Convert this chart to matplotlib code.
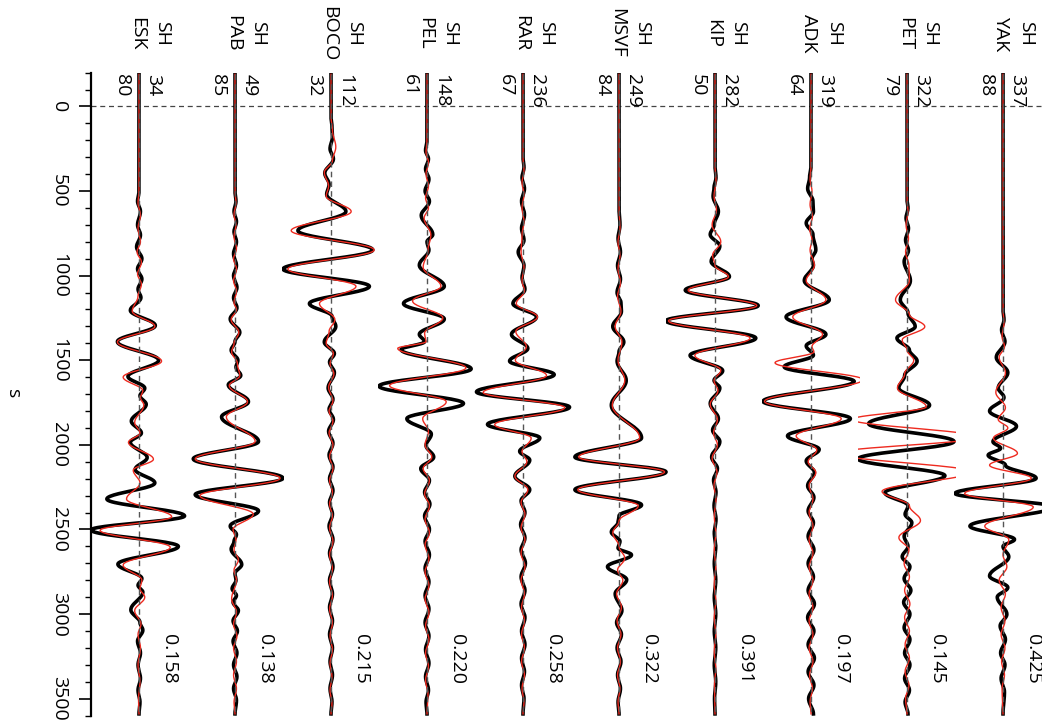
import numpy as np
import matplotlib
matplotlib.use("Agg")
import matplotlib.pyplot as plt
from matplotlib.patches import Rectangle
from matplotlib.ticker import MultipleLocator

plt.rcParams["font.family"] = ["Open Sans", "DejaVu Sans"]

# Stations, left to right
stations = ["ESK", "PAB", "BOCO", "PEL", "RAR", "MSVF", "KIP", "ADK", "PET", "YAK"]
component = "SH"
azimuth = [34, 49, 112, 148, 236, 249, 282, 319, 322, 337]
distance = [80, 85, 32, 61, 67, 84, 50, 64, 79, 88]
correlation = ["0.158", "0.138", "0.215", "0.220", "0.258", "0.322", "0.391", "0.197", "0.145", "0.425"]

# Waveform turning points (time in s, normalised amplitude); obs = black, syn = red
esk_obs = [(-190, 0), (500, 0), (560, -0.03), (620, 0.03), (700, -0.03), (760, 0.03), (830, -0.05),
           (900, 0.06), (960, -0.03), (1020, 0.06), (1080, -0.02), (1130, 0.04), (1205, -0.18),
           (1295, 0.34), (1390, -0.45), (1500, 0.41), (1596, -0.23), (1665, 0.12), (1710, 0.02),
           (1760, 0.15), (1860, -0.16), (1930, 0.05), (1985, -0.18), (2075, 0.17), (2145, -0.08),
           (2225, 0.33), (2320, -0.67), (2420, 0.95), (2503, -1.0), (2600, 0.82), (2705, -0.44),
           (2790, 0.06), (2830, -0.02), (2870, 0.08), (2975, -0.17), (3050, 0.02), (3095, 0.08),
           (3160, -0.03), (3230, 0.03), (3300, -0.02), (3380, 0.03), (3450, -0.02), (3520, 0.02), (3590, 0)]
esk_syn = [(-190, 0), (500, 0), (570, -0.02), (640, 0.03), (720, -0.02), (800, 0.03), (860, -0.04),
           (920, 0.05), (990, -0.03), (1050, 0.05), (1120, -0.02), (1210, -0.14), (1300, 0.33),
           (1392, -0.45), (1505, 0.47), (1600, -0.33), (1680, 0.08), (1720, 0.03), (1765, 0.10),
           (1868, -0.09), (1930, 0.02), (1985, -0.22), (2085, 0.30), (2150, -0.12), (2225, 0.02),
           (2320, -0.26), (2425, 0.68), (2505, -0.81), (2605, 0.65), (2710, -0.33), (2800, 0.06),
           (2850, 0.02), (2900, 0.12), (2980, -0.09), (3060, 0.04), (3120, -0.02), (3200, 0.03),
           (3300, -0.02), (3400, 0.02), (3500, -0.01), (3590, 0)]

pab_obs = [(-190, 0), (500, 0), (560, 0.02), (620, -0.02), (680, 0.03), (740, -0.02), (800, 0.03),
           (870, -0.03), (940, 0.03), (1000, -0.03), (1070, 0.04), (1130, -0.03), (1190, 0.04),
           (1256, -0.10), (1335, 0.10), (1390, 0.0), (1440, -0.08), (1500, 0.06), (1540, 0.02),
           (1590, 0.12), (1645, -0.14), (1745, 0.28), (1835, -0.28), (1980, 0.49), (2083, -0.87),
           (2197, 1.0), (2294, -0.83), (2390, 0.49), (2480, -0.10), (2530, 0.03), (2570, -0.02),
           (2616, -0.08), (2707, 0.14), (2760, 0.0), (2800, 0.02), (2850, -0.06), (2890, 0.03),
           (2930, -0.04), (2979, 0.07), (3040, -0.04), (3100, 0.05), (3160, -0.04), (3230, 0.04),
           (3300, -0.03), (3370, 0.04), (3440, -0.03), (3510, 0.03), (3590, 0)]
pab_syn = [(-190, 0), (500, 0), (570, 0.02), (640, -0.02), (700, 0.02), (770, -0.02), (840, 0.03),
           (900, -0.03), (960, 0.03), (1030, -0.03), (1090, 0.03), (1160, -0.02), (1200, 0.03),
           (1260, -0.08), (1335, 0.08), (1400, -0.02), (1450, -0.07), (1520, 0.05), (1590, 0.10),
           (1650, -0.12), (1745, 0.26), (1835, -0.18), (1980, 0.42), (2083, -0.83), (2197, 0.94),
           (2300, -0.73), (2410, 0.38), (2500, -0.04), (2560, 0.02), (2620, -0.02), (2680, 0.07),
           (2740, -0.02), (2800, 0.03), (2910, -0.07), (2990, 0.03), (3060, -0.03), (3130, 0.04),
           (3200, -0.03), (3280, 0.03), (3360, -0.03), (3440, 0.03), (3520, -0.02), (3590, 0)]

boco_obs = [(-190, 0), (60, 0), (120, 0.02), (180, 0.03), (250, -0.02), (310, 0.05), (394, -0.13),
            (460, -0.04), (520, -0.09), (621, 0.31), (734, -0.69), (848, 0.87), (961, -1.0),
            (1063, 0.80), (1165, -0.45), (1240, 0.02), (1300, 0.10), (1392, -0.14), (1460, 0.07),
            (1510, -0.03), (1573, 0.07), (1664, -0.06), (1730, 0.04), (1790, -0.04), (1850, 0.05),
            (1920, -0.05), (1990, 0.04), (2060, -0.04), (2130, 0.04), (2200, -0.03), (2270, 0.04),
            (2340, -0.03), (2410, 0.03), (2480, -0.04), (2560, 0.04), (2640, -0.03), (2720, 0.04),
            (2800, -0.03), (2880, 0.03), (2960, -0.03), (3040, 0.03), (3120, -0.03), (3200, 0.03),
            (3280, -0.02), (3360, 0.03), (3440, -0.02), (3520, 0.02), (3590, 0)]
boco_syn = [(-190, 0), (60, 0), (140, 0.03), (240, 0.10), (320, 0.03), (390, -0.14), (470, -0.05),
            (530, -0.10), (621, 0.42), (734, -0.83), (848, 0.90), (961, -0.90), (1063, 0.52),
            (1165, -0.24), (1260, 0.08), (1330, -0.04), (1400, -0.10), (1460, 0.05), (1520, -0.02),
            (1580, 0.06), (1660, -0.05), (1740, 0.04), (1800, -0.04), (1860, 0.04), (1930, -0.04),
            (2000, 0.04), (2070, -0.03), (2140, 0.04), (2210, -0.03), (2280, 0.03), (2350, -0.03),
            (2420, 0.03), (2490, -0.03), (2570, 0.04), (2650, -0.03), (2730, 0.03), (2810, -0.03),
            (2890, 0.03), (2970, -0.03), (3050, 0.03), (3130, -0.02), (3210, 0.03), (3290, -0.02),
            (3370, 0.02), (3450, -0.02), (3530, 0.02), (3590, 0)]

pel_obs = [(-190, 0), (200, 0), (260, -0.03), (310, 0.03), (370, -0.03), (430, 0.04), (500, -0.04),
           (560, 0.05), (644, -0.12), (757, 0.12), (800, 0.0), (848, 0.04), (938, -0.16),
           (1063, 0.36), (1165, -0.49), (1256, 0.36), (1347, -0.16), (1390, -0.05), (1437, -0.54),
           (1551, 0.92), (1653, -1.0), (1755, 0.76), (1845, -0.42), (1936, 0.09), (2004, -0.02),
           (2072, 0.14), (2140, -0.13), (2210, 0.05), (2280, -0.05), (2350, 0.06), (2420, -0.05),
           (2500, 0.05), (2570, -0.04), (2650, 0.05), (2730, -0.04), (2810, 0.04), (2890, -0.04),
           (2970, 0.04), (3050, -0.04), (3130, 0.04), (3210, -0.03), (3290, 0.04), (3370, -0.03),
           (3450, 0.03), (3520, -0.02), (3590, 0)]
pel_syn = [(-190, 0), (200, 0), (270, -0.02), (330, 0.03), (400, -0.02), (470, 0.03), (540, -0.03),
           (600, 0.03), (660, -0.06), (760, 0.08), (850, 0.02), (950, -0.08), (1063, 0.29),
           (1150, -0.30), (1250, 0.33), (1340, -0.05), (1390, -0.02), (1430, -0.61), (1545, 0.81),
           (1650, -0.78), (1745, 0.40), (1845, -0.09), (1920, 0.03), (2000, -0.04), (2072, 0.10),
           (2140, -0.08), (2210, 0.05), (2290, -0.05), (2360, 0.05), (2440, -0.04), (2520, 0.05),
           (2590, -0.04), (2670, 0.04), (2750, -0.04), (2830, 0.04), (2910, -0.04), (2990, 0.04),
           (3070, -0.03), (3150, 0.04), (3230, -0.03), (3310, 0.03), (3390, -0.03), (3470, 0.02),
           (3590, 0)]

rar_obs = [(-190, 0), (300, 0), (360, 0.02), (420, -0.02), (485, 0.03), (560, -0.03), (640, 0.03),
           (720, -0.03), (790, 0.02), (860, -0.10), (940, 0.02), (1010, -0.02), (1080, 0.04),
           (1165, -0.21), (1244, 0.28), (1347, -0.24), (1430, 0.10), (1505, -0.28), (1585, 0.65),
           (1687, -0.97), (1777, 0.97), (1879, -0.74), (1959, 0.35), (2038, -0.07), (2090, 0.14),
           (2185, -0.17), (2265, 0.14), (2330, -0.04), (2400, 0.04), (2470, -0.05), (2550, 0.04),
           (2620, -0.04), (2700, 0.05), (2780, -0.04), (2860, 0.04), (2940, -0.04), (3020, 0.04),
           (3100, -0.03), (3180, 0.04), (3260, -0.03), (3340, 0.03), (3420, -0.03), (3500, 0.02),
           (3590, 0)]
rar_syn = [(-190, 0), (300, 0), (380, 0.02), (450, -0.02), (520, 0.02), (600, -0.02), (680, 0.02),
           (760, -0.02), (860, -0.04), (950, 0.02), (1030, -0.02), (1090, 0.03), (1165, -0.14),
           (1244, 0.30), (1330, -0.15), (1420, 0.07), (1500, -0.16), (1590, 0.49), (1690, -0.83),
           (1780, 0.87), (1880, -0.59), (1960, 0.17), (2040, -0.02), (2100, 0.08), (2185, -0.17),
           (2265, 0.10), (2340, -0.04), (2410, 0.04), (2490, -0.04), (2560, 0.04), (2640, -0.04),
           (2720, 0.04), (2800, -0.04), (2880, 0.03), (2960, -0.03), (3040, 0.03), (3120, -0.03),
           (3200, 0.03), (3280, -0.03), (3360, 0.03), (3440, -0.02), (3520, 0.02), (3590, 0)]

msvf_obs = [(-190, 0), (600, 0), (700, 0.02), (780, -0.02), (860, 0.03), (940, -0.03), (1020, 0.03),
            (1100, -0.04), (1160, 0.04), (1211, 0.05), (1300, -0.13), (1392, 0.10), (1450, 0.0),
            (1505, -0.04), (1619, 0.15), (1766, -0.16), (1959, 0.47), (2072, -0.92), (2160, 0.98),
            (2265, -0.92), (2355, 0.47), (2420, 0.0), (2457, -0.02), (2515, -0.16), (2570, 0.02),
            (2610, -0.02), (2650, 0.26), (2720, -0.24), (2797, 0.16), (2880, -0.08), (2979, 0.06),
            (3050, -0.05), (3120, 0.05), (3200, -0.04), (3280, 0.04), (3360, -0.03), (3440, 0.03),
            (3520, -0.02), (3590, 0)]
msvf_syn = [(-190, 0), (600, 0), (720, 0.02), (800, -0.02), (880, 0.02), (960, -0.02), (1040, 0.03),
            (1120, -0.03), (1211, 0.04), (1300, -0.08), (1392, 0.06), (1500, -0.02), (1619, 0.12),
            (1766, -0.14), (1959, 0.43), (2072, -0.84), (2160, 0.95), (2265, -0.86), (2360, 0.40),
            (2450, 0.0), (2520, -0.13), (2600, 0.0), (2670, 0.12), (2740, -0.03), (2800, 0.08),
            (2880, -0.05), (2960, 0.05), (3040, -0.04), (3120, 0.04), (3200, -0.03), (3280, 0.03),
            (3360, -0.03), (3440, 0.02), (3520, -0.02), (3590, 0)]

kip_obs = [(-190, 0), (350, 0), (420, 0.02), (480, -0.02), (530, -0.04), (621, 0.07), (700, -0.02),
           (757, -0.10), (825, 0.10), (916, -0.08), (1006, 0.30), (1086, -0.62), (1177, 0.90),
           (1267, -1.02), (1369, 0.85), (1471, -0.52), (1562, 0.16), (1619, -0.02), (1664, 0.10),
           (1755, -0.10), (1845, 0.07), (1913, -0.05), (1981, 0.10), (2072, -0.07), (2140, 0.05),
           (2208, -0.03), (2280, 0.02), (2360, -0.02), (2440, 0.02), (2520, -0.015), (2600, 0.015),
           (2700, -0.015), (2800, 0.015), (2900, -0.015), (3000, 0.015), (3100, -0.015),
           (3200, 0.015), (3300, -0.015), (3400, 0.015), (3500, -0.01), (3590, 0)]
kip_syn = [(-190, 0), (350, 0), (440, 0.02), (530, -0.02), (610, 0.03), (700, -0.06), (800, 0.12),
           (880, -0.05), (940, 0.0), (1006, 0.28), (1086, -0.56), (1177, 0.87), (1267, -0.97),
           (1369, 0.73), (1471, -0.42), (1560, 0.12), (1620, -0.02), (1680, 0.06), (1760, -0.10),
           (1850, 0.05), (1930, -0.03), (2000, 0.05), (2080, -0.06), (2160, 0.04), (2240, -0.02),
           (2320, 0.02), (2420, -0.015), (2520, 0.015), (2620, -0.015), (2720, 0.015),
           (2820, -0.015), (2920, 0.015), (3020, -0.015), (3120, 0.015), (3220, -0.015),
           (3320, 0.015), (3420, -0.01), (3590, 0)]

adk_obs = [(-190, 0), (350, 0), (420, -0.03), (485, -0.07), (560, 0.04), (621, 0.05), (689, -0.10),
           (757, 0.04), (848, 0.10), (900, 0.02), (938, 0.05), (1029, -0.14), (1143, 0.38),
           (1244, -0.52), (1347, 0.31), (1415, -0.10), (1470, 0.05), (1539, -0.56), (1625, 0.90),
           (1743, -1.0), (1845, 0.82), (1947, -0.49), (2027, 0.17), (2095, -0.10), (2163, 0.07),
           (2242, -0.07), (2310, 0.06), (2390, -0.06), (2460, 0.05), (2540, -0.06), (2620, 0.06),
           (2700, -0.06), (2780, 0.05), (2860, -0.06), (2940, 0.07), (3020, -0.07), (3100, 0.06),
           (3180, -0.06), (3260, 0.07), (3340, -0.06), (3420, 0.06), (3500, -0.05), (3590, 0.05)]
adk_syn = [(-190, 0), (350, 0), (430, -0.02), (500, 0.02), (580, -0.02), (650, 0.03), (720, -0.03),
           (790, 0.02), (848, -0.02), (938, 0.07), (1029, -0.10), (1143, 0.31), (1244, -0.38),
           (1347, 0.24), (1420, 0.02), (1450, 0.06), (1515, -0.75), (1615, 1.08), (1743, -0.97),
           (1845, 0.63), (1947, -0.31), (2030, 0.12), (2100, -0.06), (2163, 0.10), (2240, -0.04),
           (2320, 0.04), (2400, -0.04), (2480, 0.04), (2560, -0.04), (2640, 0.04), (2720, -0.04),
           (2800, 0.04), (2880, -0.04), (2960, 0.04), (3040, -0.04), (3120, 0.04), (3200, -0.04),
           (3280, 0.04), (3360, -0.03), (3440, 0.03), (3520, -0.02), (3590, 0)]

pet_obs = [(-190, 0), (550, 0), (600, 0.02), (660, -0.02), (720, 0.03), (790, -0.03), (850, 0.03),
           (916, -0.06), (1029, 0.07), (1143, -0.14), (1220, 0.02), (1301, 0.17), (1369, -0.21),
           (1440, 0.05), (1505, 0.21), (1590, -0.05), (1664, -0.17), (1766, 0.47), (1875, -0.80),
           (1980, 0.98), (2083, -1.02), (2182, 0.79), (2283, -0.46), (2360, 0.02), (2410, -0.04),
           (2460, 0.10), (2540, -0.06), (2600, 0.02), (2661, -0.10), (2720, 0.06), (2790, -0.06),
           (2860, 0.08), (2930, -0.07), (3000, 0.06), (3080, -0.06), (3150, 0.06), (3230, -0.05),
           (3300, 0.06), (3380, -0.05), (3450, 0.05), (3520, -0.04), (3590, 0.02)]
pet_syn = [(-190, 0), (550, 0), (620, 0.02), (700, -0.02), (780, 0.03), (860, -0.03), (940, 0.04),
           (1029, 0.05), (1143, -0.24), (1230, 0.05), (1301, 0.37), (1380, -0.10), (1440, 0.0),
           (1500, 0.14), (1580, -0.05), (1664, -0.20), (1775, 0.40), (1850, -1.15), (1955, 1.5),
           (2050, -1.5), (2160, 1.35), (2275, -0.52), (2360, 0.05), (2447, 0.28), (2548, -0.17),
           (2620, 0.04), (2700, -0.06), (2780, 0.05), (2860, -0.05), (2940, 0.06), (3020, -0.05),
           (3100, 0.05), (3180, -0.04), (3260, 0.05), (3340, -0.04), (3420, 0.04), (3500, -0.03),
           (3590, 0)]

yak_obs = [(-190, 0), (1200, 0), (1260, 0.02), (1320, -0.03), (1390, 0.04), (1483, -0.14),
           (1573, 0.10), (1664, -0.10), (1720, 0.02), (1800, -0.28), (1890, 0.28), (1981, -0.21),
           (2020, -0.05), (2061, -0.31), (2120, 0.05), (2197, 0.69), (2287, -1.0), (2367, 1.05),
           (2480, -0.69), (2559, 0.24), (2600, 0.0), (2661, 0.12), (2775, -0.28), (2843, 0.10),
           (2900, -0.12), (3001, 0.08), (3070, -0.06), (3150, 0.05), (3230, -0.05), (3300, 0.04),
           (3380, -0.04), (3460, 0.03), (3590, 0)]
yak_syn = [(-190, 0), (1200, 0), (1280, 0.02), (1360, -0.02), (1420, 0.03), (1483, -0.08),
           (1573, 0.05), (1690, -0.15), (1780, 0.05), (1850, -0.10), (1900, 0.10), (1960, -0.20),
           (2050, 0.30), (2120, -0.28), (2197, 0.59), (2287, -0.80), (2367, 0.63), (2480, -0.38),
           (2560, 0.12), (2650, 0.0), (2720, 0.08), (2800, -0.08), (2880, 0.05), (2960, -0.04),
           (3040, 0.04), (3120, -0.04), (3200, 0.04), (3280, -0.03), (3360, 0.03), (3440, -0.02),
           (3590, 0)]

observed = [esk_obs, pab_obs, boco_obs, pel_obs, rar_obs, msvf_obs, kip_obs, adk_obs, pet_obs, yak_obs]
synthetic = [esk_syn, pab_syn, boco_syn, pel_syn, rar_syn, msvf_syn, kip_syn, adk_syn, pet_syn, yak_syn]

AMP_SCALE = 0.5   # one amplitude unit = half the trace spacing
CLIP = 0.51       # traces are clipped to this half-width around their baseline


def wiggle(points, n=24):
    """Smooth half-cosine swings between successive turning points."""
    t = np.array([p[0] for p in points], float)
    a = np.array([p[1] for p in points], float)
    tt, aa = [], []
    s = np.linspace(0.0, 1.0, n, endpoint=False)
    for i in range(len(t) - 1):
        tt.append(t[i] + (t[i + 1] - t[i]) * s)
        aa.append(a[i] + (a[i + 1] - a[i]) * (1 - np.cos(np.pi * s)) / 2)
    tt.append([t[-1]])
    aa.append([a[-1]])
    return np.concatenate(tt), np.concatenate(aa)


W, H = 1042, 721
fig = plt.figure(figsize=(W / 100, H / 100), dpi=100)
ax = fig.add_axes([91 / W, 5.4 / H, (W - 91) / W, (716 - 73) / H])

t_top, t_bottom = -200, 3600
ax.set_ylim(t_bottom, t_top)
ax.set_xlim(-0.5, 9.406)

for i in range(len(stations)):
    band = Rectangle((i - CLIP, t_top), 2 * CLIP, t_bottom - t_top, transform=ax.transData)
    t, a = wiggle(observed[i])
    ln, = ax.plot(i + AMP_SCALE * a, t, color="black", lw=2.6, zorder=3)
    ln.set_clip_path(band)
    t, a = wiggle(synthetic[i])
    ln, = ax.plot(i + AMP_SCALE * a, t, color="#ee2a1f", lw=1.0, zorder=4)
    ln.set_clip_path(band)
    ax.plot([i, i], [-190, 3590], color="#555555", lw=1.0, ls=(0, (4, 3)), zorder=5)

ax.axhline(0, color="#444444", lw=0.9, ls=(0, (4, 3)), zorder=2)

# station annotations
fs = 14
for i, name in enumerate(stations):
    ax.text(i - 0.02, -432, name, rotation=-90, ha="center", va="center", fontsize=14)
    ax.text(i + 0.24, -432, component, rotation=-90, ha="center", va="center", fontsize=14)
    ax.text(i + 0.15, -190, str(azimuth[i]), rotation=-90, ha="center", va="top", fontsize=fs)
    ax.text(i - 0.175, -190, str(distance[i]), rotation=-90, ha="center", va="top", fontsize=fs)
    ax.text(i + 0.31, 3264, correlation[i], rotation=-90, ha="center", va="center", fontsize=fs)

for side in ("top", "right", "bottom"):
    ax.spines[side].set_visible(False)
ax.spines["left"].set_linewidth(1.6)
ax.set_xticks([])
ax.yaxis.set_minor_locator(MultipleLocator(100))
ax.set_yticks(np.arange(0, 3501, 500))
ax.tick_params(axis="y", which="major", length=8.6, width=1.2, pad=8, labelsize=fs, labelrotation=-90)
ax.tick_params(axis="y", which="minor", length=4.3, width=1.0)
for lbl in ax.get_yticklabels():
    lbl.set_va("center")
ax.set_ylabel("s", rotation=-90, fontsize=fs, va="center")
ax.yaxis.set_label_coords(-0.082, 0.5)

fig.savefig("out.png", dpi=100)
